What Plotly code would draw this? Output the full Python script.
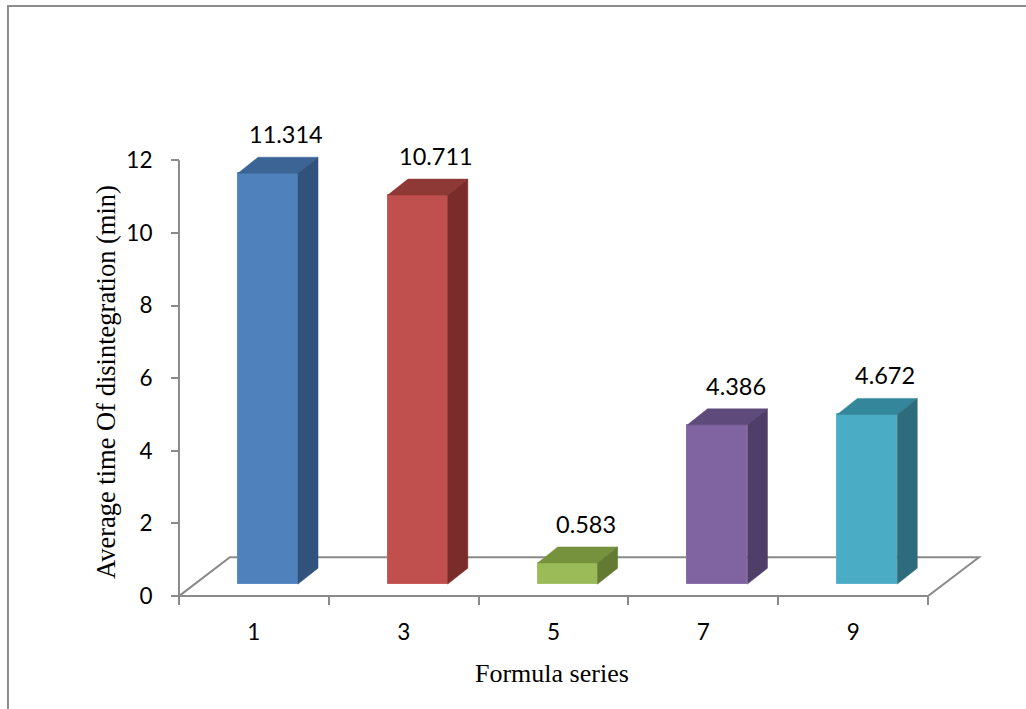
import plotly.graph_objects as go

# ---- data -------------------------------------------------------------
categories = ["1", "3", "5", "7", "9"]
values = [11.314, 10.711, 0.583, 4.386, 4.672]
y_ticks = [0, 2, 4, 6, 8, 10, 12]
y_title = "Average time Of disintegration (min)"
x_title = "Formula series"

# ---- styles -----------------------------------------------------------
front_colors = ["#4F81BD", "#C0504D", "#9BBB59", "#8064A2", "#4BACC6"]
top_colors = ["#3C6494", "#8E3936", "#76923C", "#5F4B7B", "#34879B"]
side_colors = ["#31527B", "#7A2C2A", "#637A33", "#4F3E67", "#2E6C7D"]
edge_colors = ["#5B8BC4", "#C85D5A", "#A5C266", "#8A70AA", "#5AB4CC"]
AXIS_GRAY = "#8A8A8A"
SANS = "Lato"
SERIF = "Liberation Serif"

# oblique projection used for the pseudo-3D look (category units / value units)
FLOOR_DX, FLOOR_DY = 0.34, 1.07     # depth of the floor
FRONT_DX, FRONT_DY = 0.094, 0.33    # offset of the bar front plane
BAR_DX, BAR_DY = 0.134, 0.44        # depth of each bar
BAR_W = 0.4
LABEL_DX = 0.215                    # horizontal offset of value labels

X_RANGE = [-0.7, 4.9]
Y_RANGE = [-0.3, 12.2]

xs = list(range(len(categories)))
n = len(categories)

fig = go.Figure()

# front faces of the bars
fig.add_trace(go.Bar(
    x=[i + FRONT_DX for i in xs],
    y=values,
    base=FRONT_DY,
    width=BAR_W,
    marker=dict(color=front_colors, line=dict(color=edge_colors, width=1)),
    hoverinfo="skip",
    showlegend=False,
))

# top and side faces
for i, v in zip(xs, values):
    x0 = i + FRONT_DX - BAR_W / 2
    x1 = i + FRONT_DX + BAR_W / 2
    y0 = FRONT_DY
    y1 = FRONT_DY + v
    fig.add_trace(go.Scatter(
        x=[x0, x1, x1 + BAR_DX, x0 + BAR_DX, x0],
        y=[y1, y1, y1 + BAR_DY, y1 + BAR_DY, y1],
        mode="lines", fill="toself",
        fillcolor=top_colors[i],
        line=dict(color=top_colors[i], width=0.5),
        hoverinfo="skip", showlegend=False,
    ))
    fig.add_trace(go.Scatter(
        x=[x1, x1 + BAR_DX, x1 + BAR_DX, x1, x1],
        y=[y0, y0 + BAR_DY, y1 + BAR_DY, y1, y0],
        mode="lines", fill="toself",
        fillcolor=side_colors[i],
        line=dict(color=side_colors[i], width=0.5),
        hoverinfo="skip", showlegend=False,
    ))

# vertical axis line (0..12)
fig.add_trace(go.Scatter(
    x=[-0.5, -0.5], y=[0, max(y_ticks)],
    mode="lines", line=dict(color=AXIS_GRAY, width=2),
    hoverinfo="skip", showlegend=False,
))

# floor of the 3-D box
x_lo, x_hi = -0.5, n - 0.5
fig.add_shape(
    type="path", xref="x", yref="y", layer="below",
    path=(f"M {x_lo} 0 L {x_hi} 0 L {x_hi + FLOOR_DX} {FLOOR_DY} "
          f"L {x_lo + FLOOR_DX} {FLOOR_DY} Z"),
    fillcolor="white", line=dict(color=AXIS_GRAY, width=2),
)

# value labels
for i, v in zip(xs, values):
    fig.add_annotation(
        x=i + LABEL_DX, y=v + FRONT_DY + BAR_DY, yshift=23,
        text=f"{v:.3f}", showarrow=False, yanchor="middle", xanchor="center",
        font=dict(family=SANS, size=23.5, color="black"),
    )

# axis titles
fig.add_annotation(
    xref="paper", yref="paper", x=0.4803, y=-0.1454,
    text=x_title, showarrow=False, xanchor="center", yanchor="middle",
    font=dict(family=SERIF, size=26, color="black"),
)
fig.add_annotation(
    xref="paper", yref="paper", x=-0.0512, y=0.4956, textangle=-90,
    text=y_title, showarrow=False, xanchor="center", yanchor="middle",
    font=dict(family=SERIF, size=26.5, color="black"),
)

# outer chart frame
fig.add_shape(
    type="rect", xref="paper", yref="paper",
    x0=-0.1681, x1=1.08, y0=-0.27, y1=1.3238,
    line=dict(color="#8C8C8C", width=2), fillcolor="rgba(0,0,0,0)",
)

x_span = X_RANGE[1] - X_RANGE[0]
y_span = Y_RANGE[1] - Y_RANGE[0]

fig.update_layout(
    width=1026, height=709,
    margin=dict(l=149, r=38, t=153, b=102),
    paper_bgcolor="white", plot_bgcolor="white",
    showlegend=False, bargap=0,
    xaxis=dict(
        range=X_RANGE, anchor="free",
        position=(0 - Y_RANGE[0]) / y_span,
        tickmode="array", tickvals=xs, ticktext=categories,
        ticks="", showline=False, showgrid=False, zeroline=False,
        ticklabelstandoff=20,
        tickfont=dict(family=SANS, size=22.5, color="black"),
        minor=dict(
            tickmode="array",
            tickvals=[k - 0.5 for k in range(n + 1)],
            ticks="outside", ticklen=8, tickwidth=2, tickcolor=AXIS_GRAY,
            showgrid=False,
        ),
    ),
    yaxis=dict(
        range=Y_RANGE, anchor="free",
        position=(-0.5 - X_RANGE[0]) / x_span,
        tickmode="array", tickvals=y_ticks,
        ticks="outside", ticklen=8, tickwidth=2, tickcolor=AXIS_GRAY,
        showline=False, showgrid=False, zeroline=False,
        ticklabelstandoff=14,
        tickfont=dict(family=SANS, size=22.5, color="black"),
    ),
)

fig.write_html("out.html")
